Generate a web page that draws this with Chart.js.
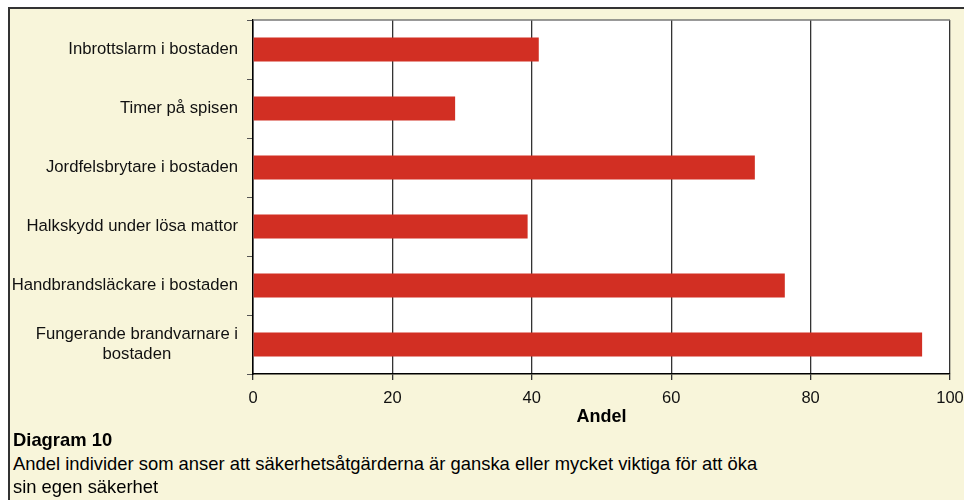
<!DOCTYPE html>
<html>
<head>
<meta charset="utf-8">
<script src="https://cdn.jsdelivr.net/npm/chart.js@4/dist/chart.umd.min.js"></script>
<style>
  html, body { margin: 0; background: #fff; overflow: hidden; font-family: "Liberation Sans", Arial, sans-serif; }
  #frame {
    position: absolute; left: 8px; top: 7px; width: 954px; height: 491px;
    background: #f8f5da; border-left: 2px solid #333; border-top: 2px solid #333;
  }
  #chartBox { position: absolute; left: 0; top: 0; width: 964px; height: 430px; }
  .cap { position: absolute; left: 13px; font-size: 18.4px; line-height: 23px; color: #000; white-space: nowrap; }
</style>
</head>
<body>
<div id="frame"></div>
<div id="chartBox"><canvas id="chart" width="964" height="430"></canvas></div>
<div class="cap" style="top:428px; font-weight:bold;">Diagram 10</div>
<div class="cap" style="top:452px;">Andel individer som anser att säkerhetsåtgärderna är ganska eller mycket viktiga för att öka</div>
<div class="cap" style="top:475px;">sin egen säkerhet</div>
<script>
// data
const categories = [
  "Inbrottslarm i bostaden",
  "Timer på spisen",
  "Jordfelsbrytare i bostaden",
  "Halkskydd under lösa mattor",
  "Handbrandsläckare i bostaden",
  ["Fungerande brandvarnare i", "bostaden"]
];
const andel = [41, 29, 72, 39.4, 76.3, 96];
const xTicks = [0, 20, 40, 60, 80, 100];

const labelFont = '16.7px "Liberation Sans", Arial, sans-serif';

// white plot area + top border line
const plotFrame = {
  id: "plotFrame",
  beforeDraw(chart) {
    const a = chart.chartArea, c = chart.ctx;
    c.save();
    c.fillStyle = "#fff";
    c.fillRect(a.left, a.top, a.right - a.left, a.bottom - a.top);
    c.restore();
  },
  afterDraw(chart) {
    const a = chart.chartArea, c = chart.ctx;
    c.save();
    c.strokeStyle = "#777";
    c.lineWidth = 1.5;
    c.beginPath();
    c.moveTo(a.left, a.top);
    c.lineTo(a.right, a.top);
    c.stroke();
    c.restore();
  }
};

// category labels: right aligned, wrapped labels centred line by line
const catLabels = {
  id: "catLabels",
  afterDraw(chart) {
    const sc = chart.scales.y, c = chart.ctx;
    c.save();
    c.font = labelFont;
    c.fillStyle = "#111";
    c.textBaseline = "middle";
    const right = sc.right - 15;
    chart.data.labels.forEach(function (lab, i) {
      const y = sc.getPixelForValue(i);
      if (Array.isArray(lab)) {
        let w = 0;
        lab.forEach(function (t) { w = Math.max(w, c.measureText(t).width); });
        c.textAlign = "center";
        const y0 = y - (lab.length - 1) * 10;
        lab.forEach(function (t, k) { c.fillText(t, right - w / 2, y0 + k * 20); });
      } else {
        c.textAlign = "right";
        c.fillText(lab, right, y);
      }
    });
    c.restore();
  }
};

new Chart(document.getElementById("chart"), {
  type: "bar",
  data: {
    labels: categories,
    datasets: [{
      data: andel,
      backgroundColor: "#d22f23",
      borderWidth: 0,
      barPercentage: 0.41,
      categoryPercentage: 1
    }]
  },
  options: {
    indexAxis: "y",
    responsive: false,
    animation: false,
    layout: { padding: { left: 0, right: 14, top: 20, bottom: 0 } },
    plugins: { legend: { display: false }, tooltip: { enabled: false } },
    scales: {
      y: {
        afterFit: function (s) { s.width = 253; s.paddingTop = 0; s.paddingBottom = 0; },
        ticks: { display: false },
        grid: { drawOnChartArea: false, drawTicks: true, tickLength: 6, tickColor: "#555", offset: true },
        border: { color: "#000", width: 1.5 }
      },
      x: {
        min: 0,
        max: 100,
        afterFit: function (s) { s.height = 56; s.paddingLeft = 0; s.paddingRight = 0; },
        afterBuildTicks: function (s) { s.ticks = xTicks.map(function (v) { return { value: v }; }); },
        ticks: { color: "#111", font: { family: '"Liberation Sans", Arial, sans-serif', size: 16.5 }, padding: 9 },
        grid: { color: "#333", lineWidth: 1.3, drawTicks: true, tickLength: 6, tickColor: "#333" },
        border: { color: "#000", width: 1.5 },
        title: {
          display: true, text: "Andel", color: "#000",
          font: { family: '"Liberation Sans", Arial, sans-serif', size: 18, weight: "bold" },
          padding: { top: 0, bottom: 2 }
        }
      }
    }
  },
  plugins: [plotFrame, catLabels]
});
</script>
</body>
</html>
